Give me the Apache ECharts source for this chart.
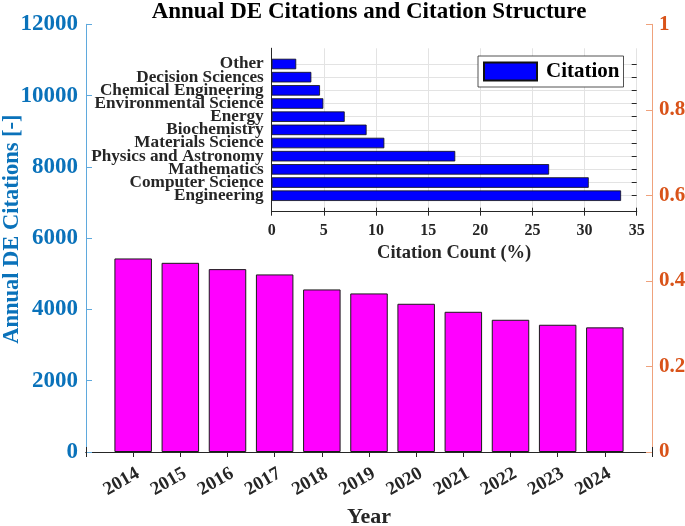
<!DOCTYPE html>
<html>
<head>
<meta charset="utf-8">
<script src="https://cdn.jsdelivr.net/npm/echarts@6/dist/echarts.min.js"></script>
<style>html,body{margin:0;padding:0;background:#fff}#c{width:685px;height:526px}</style>
</head>
<body>
<div id="c"></div>
<script>
// ---- data ----
const years = [2014, 2015, 2016, 2017, 2018, 2019, 2020, 2021, 2022, 2023, 2024];
const annualCitations = [5430, 5308, 5131, 4982, 4561, 4449, 4159, 3934, 3710, 3570, 3497];
const subjects = ['Engineering', 'Computer Science', 'Mathematics', 'Physics and Astronomy',
  'Materials Science', 'Biochemistry', 'Energy', 'Environmental Science',
  'Chemical Engineering', 'Decision Sciences', 'Other'];
const subjectShare = [33.5, 30.4, 26.6, 17.6, 10.8, 9.1, 7.0, 4.95, 4.63, 3.8, 2.35];
const leftTicks = [0, 2000, 4000, 6000, 8000, 10000, 12000];
const rightTicks = ['0', '0.2', '0.4', '0.6', '0.8', '1'];

const FONT = 'Liberation Serif';
const DARK = '#262626';
const BLUE_LINE = '#5FA9DD';
const BLUE_TEXT = '#0A72BA';
const ORANGE_LINE = '#EFA27C';
const ORANGE_TEXT = '#D95319';

const chart = echarts.init(document.getElementById('c'), null, {renderer: 'canvas'});
const option = {
  backgroundColor: '#fff',
  animation: false,
  title: {
    text: 'Annual DE Citations and Citation Structure',
    left: 369, top: 1, textAlign: 'center', padding: 0,
    textStyle: {fontFamily: FONT, fontWeight: 'bold', fontSize: 23, color: '#000'}
  },
  legend: {
    data: ['Citation'],
    left: 478, top: 56,
    itemWidth: 53, itemHeight: 18,
    padding: [5, 4, 5, 5],
    backgroundColor: '#fff',
    borderColor: DARK, borderWidth: 0.8,
    icon: 'rect',
    textStyle: {fontFamily: FONT, fontWeight: 'bold', fontSize: 21, color: '#000', padding: [0, 0, 0, 4]}
  },
  grid: [
    {left: 86, top: 24.3, width: 566, height: 427.7, outerBoundsMode: 'none', containLabel: false},
    {left: 271.7, top: 48.3, width: 365, height: 163.4, outerBoundsMode: 'none', containLabel: false},
    {left: 271.7, top: 64, width: 365, height: 131.7, outerBoundsMode: 'none', containLabel: false}
  ],
  xAxis: [
    {
      gridIndex: 0, type: 'value', min: 2013, max: 2025, interval: 1, position: 'bottom',
      axisLine: {lineStyle: {color: DARK, width: 1}},
      axisTick: {inside: true, length: 5, lineStyle: {color: DARK}},
      splitLine: {show: false},
      axisLabel: {
        rotate: 30, margin: 12, verticalAlign: 'top',
        color: DARK, fontFamily: FONT, fontWeight: 'bold', fontSize: 19,
        showMinLabel: true, showMaxLabel: true,
        formatter: v => (years.indexOf(v) >= 0 ? String(v) : '')
      },
      name: 'Year', nameLocation: 'middle', nameGap: 54, nameMoveOverlap: false,
      nameTextStyle: {fontFamily: FONT, fontWeight: 'bold', fontSize: 22, color: DARK}
    },
    {
      gridIndex: 0, type: 'value', min: 2013, max: 2025, interval: 1, position: 'top',
      axisLine: {lineStyle: {color: DARK, width: 1}},
      axisTick: {inside: true, length: 5, lineStyle: {color: DARK}},
      axisLabel: {show: false}, splitLine: {show: false}
    },
    {
      gridIndex: 1, type: 'value', min: 0, max: 35, interval: 5, position: 'bottom',
      axisLine: {lineStyle: {color: DARK, width: 1}},
      axisTick: {inside: true, length: 4, lineStyle: {color: DARK}},
      splitLine: {show: true, lineStyle: {color: '#E3E3E3', width: 1}},
      axisLabel: {margin: 11, color: DARK, fontFamily: FONT, fontWeight: 'bold', fontSize: 16},
      name: 'Citation Count (%)', nameLocation: 'middle', nameGap: 32, nameMoveOverlap: false,
      nameTextStyle: {fontFamily: FONT, fontWeight: 'bold', fontSize: 18.5, color: DARK}
    },
    {
      gridIndex: 1, type: 'value', min: 0, max: 35, interval: 5, position: 'top',
      axisLine: {lineStyle: {color: DARK, width: 1}},
      axisTick: {inside: true, length: 4, lineStyle: {color: DARK}},
      axisLabel: {show: false}, splitLine: {show: false}
    },
    {gridIndex: 2, type: 'value', min: 0, max: 35, show: false}
  ],
  yAxis: [
    {
      gridIndex: 0, type: 'value', min: 0, max: 12000, interval: 2000, position: 'left',
      axisLine: {show: true, lineStyle: {color: BLUE_LINE, width: 1}},
      axisTick: {show: true, inside: true, length: 6, lineStyle: {color: BLUE_LINE}},
      splitLine: {show: false},
      axisLabel: {margin: 8, color: BLUE_TEXT, fontFamily: FONT, fontWeight: 'bold', fontSize: 23,
        formatter: v => (leftTicks.indexOf(v) >= 0 ? String(v) : '')},
      name: 'Annual DE Citations [-]', nameLocation: 'middle', nameGap: 62, nameMoveOverlap: false,
      nameTextStyle: {fontFamily: FONT, fontWeight: 'bold', fontSize: 22.5, color: BLUE_TEXT, padding: [0, 0, 0, 18]}
    },
    {
      gridIndex: 0, type: 'value', min: 0, max: 1, interval: 0.2, position: 'right',
      axisLine: {show: true, lineStyle: {color: ORANGE_LINE, width: 1}},
      axisTick: {show: true, inside: true, length: 6, lineStyle: {color: ORANGE_LINE}},
      splitLine: {show: false},
      axisLabel: {margin: 7, color: ORANGE_TEXT, fontFamily: FONT, fontWeight: 'bold', fontSize: 21,
        formatter: v => rightTicks[Math.round(v * 5)]}
    },
    {
      gridIndex: 1, type: 'value', min: 0, max: 1, position: 'left',
      axisLine: {show: true, lineStyle: {color: DARK, width: 1}},
      axisTick: {show: false}, axisLabel: {show: false}, splitLine: {show: false}
    },
    {
      gridIndex: 1, type: 'value', min: 0, max: 1, position: 'right',
      axisLine: {show: true, lineStyle: {color: DARK, width: 1}},
      axisTick: {show: false}, axisLabel: {show: false}, splitLine: {show: false}
    },
    {
      gridIndex: 2, type: 'category', data: subjects, boundaryGap: false, position: 'left',
      axisLine: {show: false},
      axisTick: {show: false},
      splitLine: {show: true, interval: 0, lineStyle: {color: '#E3E3E3', width: 1}},
      axisLabel: {interval: 0, margin: 8, color: DARK, fontFamily: FONT, fontWeight: 'bold', fontSize: 17.2, lineHeight: 13}
    },
    {
      gridIndex: 2, type: 'category', data: subjects, boundaryGap: false, position: 'right',
      axisLine: {show: false},
      axisTick: {show: true, interval: 0, inside: true, length: 5, lineStyle: {color: DARK}},
      axisLabel: {show: false}, splitLine: {show: false}
    }
  ],
  series: [
    {
      name: 'Annual', type: 'bar', xAxisIndex: 0, yAxisIndex: 0,
      data: years.map((y, i) => [y, annualCitations[i]]),
      barWidth: 37.5,
      itemStyle: {color: '#FF00FF', borderColor: '#1a1a1a', borderWidth: 1}
    },
    {
      name: 'Citation', type: 'bar', xAxisIndex: 4, yAxisIndex: 4,
      data: subjectShare,
      barWidth: 10.5,
      itemStyle: {color: '#0000FF', borderColor: '#111', borderWidth: 0.8}
    }
  ]
};
chart.setOption(option);
</script>
</body>
</html>
